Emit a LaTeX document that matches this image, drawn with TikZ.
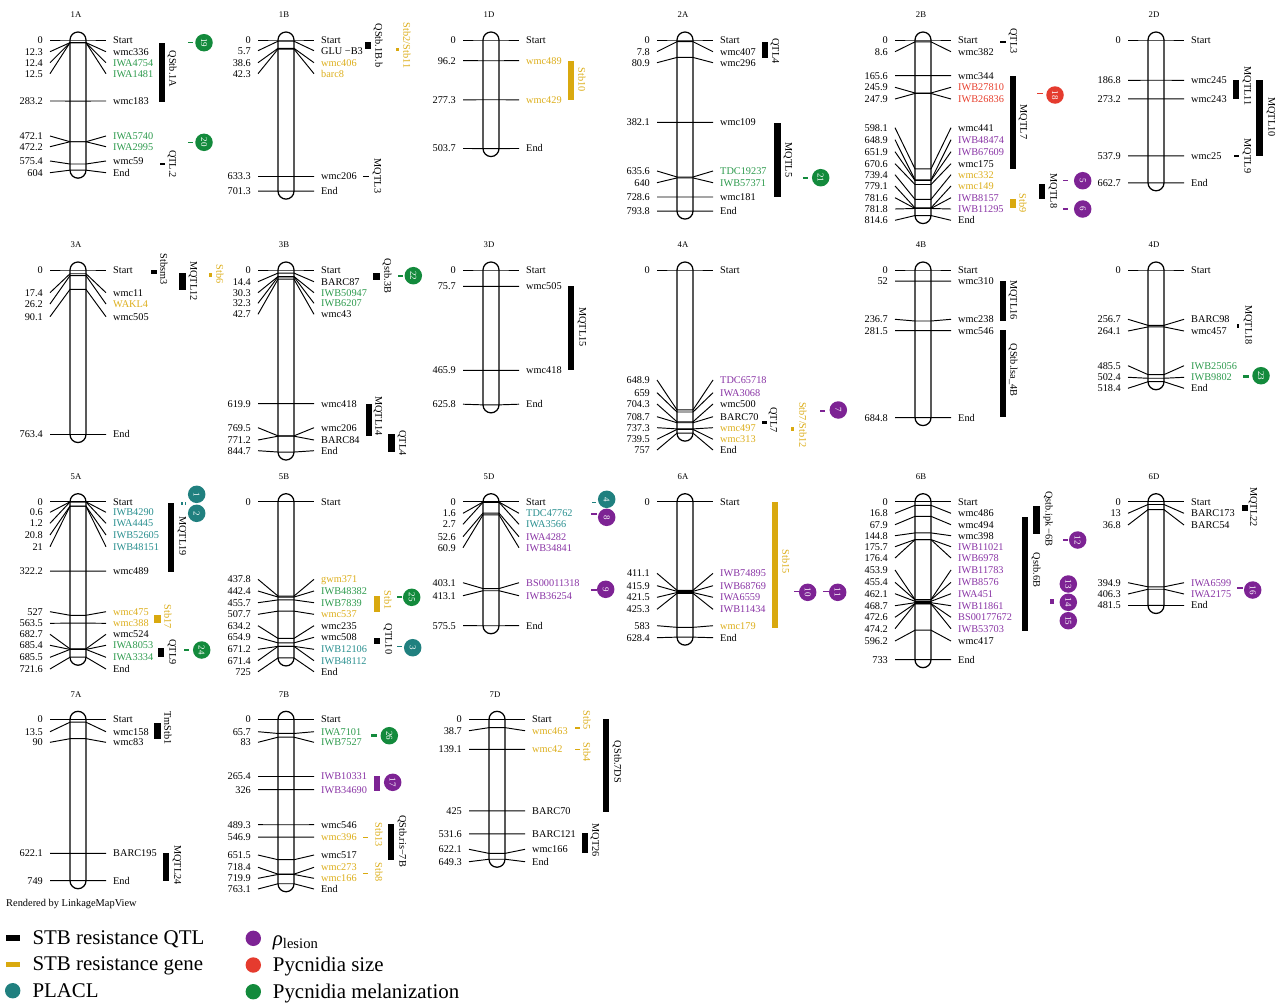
\documentclass[tikz,border=0pt]{standalone}
\usepackage{fontspec}
\setmainfont{Liberation Serif}
\definecolor{cgreen}{HTML}{138A3C}
\definecolor{cgold}{HTML}{D9A90F}
\definecolor{cpurple}{HTML}{7D2394}
\definecolor{cteal}{HTML}{20807F}
\definecolor{cred}{HTML}{E53B2E}
\definecolor{tgreen}{HTML}{2E9B4E}
\definecolor{tgold}{HTML}{DDAF1C}
\definecolor{tpurple}{HTML}{8A35A6}
\definecolor{tteal}{HTML}{2A9090}
\definecolor{tred}{HTML}{E8412F}
\newcounter{nd}
\tikzset{
 mline/.style={line width=0.95pt},
 chromo/.style={line width=1.25pt, rounded corners=8pt},
 lab/.style={font=\fontsize{10.3}{12}\selectfont, inner sep=0pt},
 rlab/.style={font=\fontsize{10.3}{12}\selectfont, inner sep=0pt, rotate=-90},
 ttl/.style={font=\fontsize{8.7}{10}\selectfont, inner sep=0pt},
 bub/.style={circle, minimum size=17.5pt, inner sep=0pt, text=white, font=\fontsize{9}{10}\selectfont},
 leg/.style={font=\fontsize{20.9}{24}\selectfont, inner sep=0pt, anchor=base west, yshift=-6.9pt}
}
\newcommand\chrm[4]{%
 \def\cx{#1}\def\yz{#2}%
 \pgfmathsetmacro\ye{#2+0.2155*#3}%
 \draw[chromo] (#1-8,#2-8) rectangle (#1+8,\ye+8);%
 \stepcounter{nd}\node[ttl] (n\arabic{nd}) at (#1-2,#2-25) {#4};%
}
\newcommand\mkr[4]{%
 \pgfmathsetmacro\yy{\yz+0.2155*#1}%
 \draw[mline] (\cx-28,#2) -- (\cx-8,\yy) -- (\cx+8,\yy) -- (\cx+28,#2);%
 \stepcounter{nd}\node[lab,anchor=base east,yshift=-3.4pt] (n\arabic{nd}) at (\cx-35,#2) {#1};%
 \stepcounter{nd}\node[lab,anchor=base west,yshift=-3.4pt,text=#4] (n\arabic{nd}) at (\cx+35,#2) {#3};%
}
\newcommand\barx[5]{\fill[#5] (#1,#2) rectangle (#3,#4);}
\newcommand\rtxt[4]{\stepcounter{nd}\node[rlab,text=#4] (n\arabic{nd}) at (#1,#2) {#3};}
\newcommand\bubl[4]{\stepcounter{nd}\node[bub,fill=#4] (n\arabic{nd}) at (#1,#2) {\rotatebox{-90}{#3}};}
\begin{document}
\begin{tikzpicture}[x=1pt,y=-1pt]
\useasboundingbox (0,0) rectangle (1281,1004);
\fill[white] (0,0) rectangle (1281,1004);
% ================= ROW 1 =================
\chrm{78}{40}{604}{1A}
\mkr{0}{40}{Start}{black}
\mkr{12.3}{51.7}{wmc336}{black}
\mkr{12.4}{62.7}{IWA4754}{tgreen}
\mkr{12.5}{73.7}{IWA1481}{tgreen}
\mkr{283.2}{101}{wmc183}{black}
\mkr{472.1}{136}{IWA5740}{tgreen}
\mkr{472.2}{146.7}{IWA2995}{tgreen}
\mkr{575.4}{161}{wmc59}{black}
\mkr{604}{172.7}{End}{black}
\chrm{286}{40}{701.3}{1B}
\mkr{0}{40}{Start}{black}
\mkr{5.7}{50.7}{GLU −B3}{black}
\mkr{38.6}{62.7}{wmc406}{tgold}
\mkr{42.3}{73.7}{barc8}{tgold}
\mkr{633.3}{176.5}{wmc206}{black}
\mkr{701.3}{191.1}{End}{black}
\chrm{491}{40}{503.7}{1D}
\mkr{0}{40}{Start}{black}
\mkr{96.2}{60.7}{wmc489}{tgold}
\mkr{277.3}{99.8}{wmc429}{tgold}
\mkr{503.7}{148.5}{End}{black}
\chrm{685}{40}{793.8}{2A}
\mkr{0}{40}{Start}{black}
\mkr{7.8}{51.7}{wmc407}{black}
\mkr{80.9}{62.7}{wmc296}{black}
\mkr{382.1}{122.3}{wmc109}{black}
\mkr{635.6}{171}{TDC19237}{tgreen}
\mkr{640}{182.7}{IWB57371}{tgreen}
\mkr{728.6}{197}{wmc181}{black}
\mkr{793.8}{211.1}{End}{black}
\chrm{923}{40}{814.6}{2B}
\mkr{0}{40}{Start}{black}
\mkr{8.6}{51.7}{wmc382}{black}
\mkr{165.6}{75.7}{wmc344}{black}
\mkr{245.9}{87.3}{IWB27810}{tred}
\mkr{247.9}{99}{IWB26836}{tred}
\mkr{598.1}{127.7}{wmc441}{black}
\mkr{648.9}{139.7}{IWB48474}{tpurple}
\mkr{651.9}{151.7}{IWB67609}{tpurple}
\mkr{670.6}{163.7}{wmc175}{black}
\mkr{739.4}{174.7}{wmc332}{tgold}
\mkr{779.1}{186}{wmc149}{tgold}
\mkr{781.6}{197.7}{IWB8157}{tpurple}
\mkr{781.8}{209}{IWB11295}{tpurple}
\mkr{814.6}{220.3}{End}{black}
\chrm{1156}{40}{662.7}{2D}
\mkr{0}{40}{Start}{black}
\mkr{186.8}{80.3}{wmc245}{black}
\mkr{273.2}{98.9}{wmc243}{black}
\mkr{537.9}{155.9}{wmc25}{black}
\mkr{662.7}{182.8}{End}{black}
% row 1 overlays
\barx{158.7}{42.7}{165.3}{101.7}{black}
\barx{159.5}{163.4}{164.5}{164.8}{black}
\barx{365}{41.7}{371}{49}{black}
\barx{363}{175.5}{369}{176.9}{black}
\barx{395.5}{47.7}{398.5}{51}{cgold}
\barx{568}{61}{574}{100}{cgold}
\barx{761.7}{41.7}{768.3}{58.3}{black}
\barx{774.3}{122.5}{780.7}{197.3}{black}
\barx{1000}{41}{1005.7}{43}{black}
\barx{1010}{76}{1016}{169}{black}
\barx{1039}{184}{1045}{199.3}{black}
\barx{1010}{199}{1016}{208.3}{cgold}
\barx{1233}{80.3}{1239}{98.9}{black}
\barx{1234}{155.3}{1239}{156.7}{black}
\barx{1256}{80.3}{1262.5}{155.9}{black}
\barx{188}{42}{193}{43.4}{cgreen}
\barx{188}{141.6}{193}{143}{cgreen}
\barx{802.7}{177}{808.3}{178.5}{cgreen}
\barx{1037}{92.5}{1043}{94}{cred}
\barx{1063}{179.5}{1068}{181}{cpurple}
\barx{1063}{208}{1068}{209.5}{cpurple}
\rtxt{172}{69}{QStb.1A}{black}
\rtxt{172}{164}{QTL.2}{black}
\rtxt{378}{45.5}{QStb.1B.b}{black}
\rtxt{407}{45.5}{Stb2/Stb11}{tgold}
\rtxt{377}{176}{MQTL3}{black}
\rtxt{582}{80}{Stb10}{tgold}
\rtxt{775}{51}{QTL4}{black}
\rtxt{788}{160}{MQTL5}{black}
\rtxt{1013}{41}{QTL3}{black}
\rtxt{1023}{122}{MQTL7}{black}
\rtxt{1053}{191}{MQTL8}{black}
\rtxt{1023}{203}{Stb9}{tgold}
\rtxt{1247}{86}{MQTL11}{black}
\rtxt{1247}{156}{MQTL9}{black}
\rtxt{1271}{117}{MQTL10}{black}
\bubl{204}{42.7}{19}{cgreen}
\bubl{204}{142.3}{20}{cgreen}
\bubl{820.7}{177.7}{21}{cgreen}
\bubl{1055}{95}{18}{cred}
\bubl{1082.7}{180.7}{5}{cpurple}
\bubl{1082.7}{209}{6}{cpurple}
% ================= ROW 2 =================
\chrm{78}{270}{763.4}{3A}
\mkr{0}{270}{Start}{black}
\mkr{17.4}{292.7}{wmc11}{black}
\mkr{26.2}{304}{WAKL4}{tgold}
\mkr{90.1}{316.7}{wmc505}{black}
\mkr{763.4}{434.5}{End}{black}
\chrm{286}{270}{844.7}{3B}
\mkr{0}{270}{Start}{black}
\mkr{14.4}{281.7}{BARC87}{black}
\mkr{30.3}{292.7}{IWB50947}{tgreen}
\mkr{32.3}{303.3}{IWB6207}{tgreen}
\mkr{42.7}{314.3}{wmc43}{black}
\mkr{619.9}{403.6}{wmc418}{black}
\mkr{769.5}{427.7}{wmc206}{black}
\mkr{771.2}{440}{BARC84}{black}
\mkr{844.7}{450.7}{End}{black}
\chrm{491}{270}{625.8}{3D}
\mkr{0}{270}{Start}{black}
\mkr{75.7}{286.3}{wmc505}{black}
\mkr{465.9}{370.4}{wmc418}{black}
\mkr{625.8}{404.2}{End}{black}
\chrm{685}{270}{757}{4A}
\mkr{0}{270}{Start}{black}
\mkr{648.9}{380}{TDC65718}{tpurple}
\mkr{659}{392.7}{IWA3068}{tpurple}
\mkr{704.3}{404}{wmc500}{black}
\mkr{708.7}{416.7}{BARC70}{black}
\mkr{737.3}{427.7}{wmc497}{tgold}
\mkr{739.5}{439.3}{wmc313}{tgold}
\mkr{757}{450}{End}{black}
\chrm{923}{270}{684.8}{4B}
\mkr{0}{270}{Start}{black}
\mkr{52}{281.2}{wmc310}{black}
\mkr{236.7}{319.3}{wmc238}{black}
\mkr{281.5}{330.7}{wmc546}{black}
\mkr{684.8}{417.6}{End}{black}
\chrm{1156}{270}{518.4}{4D}
\mkr{0}{270}{Start}{black}
\mkr{256.7}{319.3}{BARC98}{black}
\mkr{264.1}{331}{wmc457}{black}
\mkr{485.5}{365.7}{IWB25056}{tgreen}
\mkr{502.4}{377.3}{IWB9802}{tgreen}
\mkr{518.4}{388.3}{End}{black}
% row 2 overlays
\barx{150.7}{270}{156.7}{274}{black}
\barx{179.3}{273.3}{185.7}{290}{black}
\barx{209.3}{273.3}{212}{277}{cgold}
\barx{373}{272.7}{380}{280}{black}
\barx{398}{275}{403}{276.5}{cgreen}
\barx{366}{403.6}{371.7}{435.7}{black}
\barx{388}{434}{395}{451.7}{black}
\barx{567.7}{286.3}{574}{370.4}{black}
\barx{762.3}{421}{767.3}{423.5}{black}
\barx{791.3}{426.7}{794.3}{430.7}{cgold}
\barx{820}{410.2}{825}{412}{cpurple}
\barx{1000}{281.2}{1005.7}{320.7}{black}
\barx{1000}{330}{1005.7}{417.3}{black}
\barx{1236.5}{324.3}{1239}{328.3}{black}
\barx{1243}{374.6}{1249}{378.3}{cgreen}
\rtxt{164}{269}{Stbsm3}{black}
\rtxt{193}{281}{MQTL12}{black}
\rtxt{220}{274}{Stb6}{tgold}
\rtxt{387}{276}{Qstb.3B}{black}
\rtxt{378}{416}{MQTL14}{black}
\rtxt{402}{443}{QTL4}{black}
\rtxt{582}{327}{MQTL15}{black}
\rtxt{773}{420}{QTL7}{black}
\rtxt{803}{425}{Stb7/Stb12}{tgold}
\rtxt{1013}{300}{MQTL16}{black}
\rtxt{1013}{370}{QStb.lsa\_4B}{black}
\rtxt{1248}{325}{MQTL18}{black}
\bubl{413.3}{275.7}{22}{cgreen}
\bubl{838.3}{410}{7}{cpurple}
\bubl{1261}{375.7}{23}{cgreen}
% ================= ROW 3 =================
\chrm{78}{501.7}{721.6}{5A}
\mkr{0}{501.7}{Start}{black}
\mkr{0.6}{512.3}{IWB4290}{tteal}
\mkr{1.2}{523.3}{IWA4445}{tteal}
\mkr{20.8}{535}{IWB52605}{tteal}
\mkr{21}{546.7}{IWB48151}{tteal}
\mkr{322.2}{571.1}{wmc489}{black}
\mkr{527}{611.7}{wmc475}{tgold}
\mkr{563.5}{623.3}{wmc388}{tgold}
\mkr{682.7}{634.3}{wmc524}{black}
\mkr{685.4}{645.3}{IWA8053}{tgreen}
\mkr{685.5}{657.3}{IWA3334}{tgreen}
\mkr{721.6}{669}{End}{black}
\chrm{286}{501.7}{725}{5B}
\mkr{0}{501.7}{Start}{black}
\mkr{437.8}{579.3}{gwm371}{tgold}
\mkr{442.4}{591}{IWB48382}{tgreen}
\mkr{455.7}{602.7}{IWB7839}{tgreen}
\mkr{507.7}{614.3}{wmc537}{tgold}
\mkr{634.2}{625.7}{wmc235}{black}
\mkr{654.9}{637.3}{wmc508}{black}
\mkr{671.2}{649.3}{IWB12106}{tteal}
\mkr{671.4}{660.7}{IWB48112}{tteal}
\mkr{725}{671.7}{End}{black}
\chrm{491}{501.7}{575.5}{5D}
\mkr{0}{501.7}{Start}{black}
\mkr{1.6}{513.3}{TDC47762}{tteal}
\mkr{2.7}{524.3}{IWA3566}{tteal}
\mkr{52.6}{536.7}{IWA4282}{tpurple}
\mkr{60.9}{547.7}{IWB34841}{tpurple}
\mkr{403.1}{582.7}{BS00011318}{tpurple}
\mkr{413.1}{595.7}{IWB36254}{tpurple}
\mkr{575.5}{625.7}{End}{black}
\chrm{685}{501.7}{628.4}{6A}
\mkr{0}{501.7}{Start}{black}
\mkr{411.1}{573.3}{IWB74895}{tpurple}
\mkr{415.9}{585.7}{IWB68769}{tpurple}
\mkr{421.5}{597.3}{IWA6559}{tpurple}
\mkr{425.3}{609.3}{IWB11434}{tpurple}
\mkr{583}{625.7}{wmc179}{tgold}
\mkr{628.4}{637.7}{End}{black}
\chrm{923}{501.7}{733}{6B}
\mkr{0}{501.7}{Start}{black}
\mkr{16.8}{513.3}{wmc486}{black}
\mkr{67.9}{524.7}{wmc494}{black}
\mkr{144.8}{535.7}{wmc398}{black}
\mkr{175.7}{546.7}{IWB11021}{tpurple}
\mkr{176.4}{558}{IWB6978}{tpurple}
\mkr{453.9}{570}{IWB11783}{tpurple}
\mkr{455.4}{582.3}{IWB8576}{tpurple}
\mkr{462.1}{593.7}{IWA451}{tpurple}
\mkr{468.7}{605.7}{IWB11861}{tpurple}
\mkr{472.6}{617.3}{BS00177672}{tpurple}
\mkr{474.2}{628.7}{IWB53703}{tpurple}
\mkr{596.2}{641}{wmc417}{black}
\mkr{733}{659.7}{End}{black}
\chrm{1156}{501.7}{481.5}{6D}
\mkr{0}{501.7}{Start}{black}
\mkr{13}{513.3}{BARC173}{black}
\mkr{36.8}{525}{BARC54}{black}
\mkr{394.9}{582.7}{IWA6599}{tpurple}
\mkr{406.3}{594}{IWA2175}{tpurple}
\mkr{481.5}{605.5}{End}{black}
% row 3 overlays
\barx{167.7}{502.7}{174}{571.7}{black}
\barx{181}{501.7}{182.5}{505}{cteal}
\barx{184.5}{501.7}{186}{505}{cteal}
\barx{154.3}{615}{161}{623.3}{cgold}
\barx{158.3}{648.3}{164}{657.3}{black}
\barx{184}{649.3}{189}{650.8}{cgreen}
\barx{374}{596}{380}{611.7}{cgold}
\barx{396.7}{596.3}{401.7}{597.8}{cgreen}
\barx{374}{638.3}{380}{644}{black}
\barx{396.7}{645.5}{401.7}{647}{cteal}
\barx{591.7}{501.7}{596}{503}{cteal}
\barx{591}{513}{596.7}{515.3}{cpurple}
\barx{591}{588.8}{596.7}{590.5}{cpurple}
\barx{771.7}{501.7}{778.3}{627.7}{cgold}
\barx{794.3}{590.8}{800}{592.3}{cpurple}
\barx{823}{590.8}{829}{592.3}{cpurple}
\barx{1033.3}{505.7}{1040}{534}{black}
\barx{1022.3}{516.7}{1028.3}{630.7}{black}
\barx{1062.7}{539}{1068.3}{540.5}{cpurple}
\barx{1050}{599.3}{1054}{604}{cpurple}
\barx{1241.7}{505}{1247.7}{511}{black}
\barx{1236.7}{586.8}{1243.3}{589.3}{cpurple}
\rtxt{182}{536}{MQTL19}{black}
\rtxt{168}{617}{Stb17}{tgold}
\rtxt{172}{652}{QTL9}{black}
\rtxt{388}{600}{Stb1}{tgold}
\rtxt{388}{639}{QTL10}{black}
\rtxt{786}{562}{Stb15}{tgold}
\rtxt{1048}{519}{Qstb.ipk −6B}{black}
\rtxt{1036}{570}{Qstb.6B}{black}
\rtxt{1253}{507}{MQTL22}{black}
\bubl{196.7}{494.3}{1}{cteal}
\bubl{196.7}{513.3}{2}{cteal}
\bubl{201.7}{650}{24}{cgreen}
\bubl{411.7}{597.3}{25}{cgreen}
\bubl{412.7}{647.7}{3}{cteal}
\bubl{606.7}{499.3}{4}{cteal}
\bubl{606.7}{517.3}{8}{cpurple}
\bubl{605.7}{589.3}{9}{cpurple}
\bubl{807.7}{592.3}{10}{cpurple}
\bubl{837.7}{592.3}{11}{cpurple}
\bubl{1077.7}{540}{12}{cpurple}
\bubl{1068.3}{584}{13}{cpurple}
\bubl{1068.3}{602.3}{14}{cpurple}
\bubl{1068.3}{620.7}{15}{cpurple}
\bubl{1252.7}{590}{16}{cpurple}
% ================= ROW 4 =================
\chrm{78}{719.3}{749}{7A}
\mkr{0}{719.3}{Start}{black}
\mkr{13.5}{731.7}{wmc158}{black}
\mkr{90}{742.3}{wmc83}{black}
\mkr{622.1}{853.4}{BARC195}{black}
\mkr{749}{880.7}{End}{black}
\chrm{286}{719.3}{763.1}{7B}
\mkr{0}{719.3}{Start}{black}
\mkr{65.7}{731.7}{IWA7101}{tgreen}
\mkr{83}{742.3}{IWB7527}{tgreen}
\mkr{265.4}{776.5}{IWB10331}{tpurple}
\mkr{326}{789.6}{IWB34690}{tpurple}
\mkr{489.3}{824.7}{wmc546}{black}
\mkr{546.9}{837.2}{wmc396}{tgold}
\mkr{651.5}{855}{wmc517}{black}
\mkr{718.4}{867.3}{wmc273}{tgold}
\mkr{719.9}{878.3}{wmc166}{tgold}
\mkr{763.1}{889}{End}{black}
\chrm{497}{719.3}{649.3}{7D}
\mkr{0}{719.3}{Start}{black}
\mkr{38.7}{730.7}{wmc463}{tgold}
\mkr{139.1}{749.3}{wmc42}{tgold}
\mkr{425}{810.9}{BARC70}{black}
\mkr{531.6}{833.9}{BARC121}{black}
\mkr{622.1}{849.3}{wmc166}{black}
\mkr{649.3}{861.7}{End}{black}
% row 4 overlays
\barx{154.3}{722.7}{161}{739.3}{black}
\barx{162.7}{853.3}{169}{881}{black}
\barx{370.7}{733.5}{376.7}{737.2}{cgreen}
\barx{374}{776}{380}{791}{cpurple}
\barx{387.7}{824.3}{394}{860}{black}
\barx{363.3}{836.5}{368.3}{838}{cgold}
\barx{363.3}{872.5}{368.3}{874}{cgold}
\barx{575}{727}{580}{728.5}{cgold}
\barx{575}{748.6}{580}{750}{cgold}
\barx{603.3}{719.3}{609.3}{811.7}{black}
\barx{581.7}{833.3}{588.3}{853.3}{black}
\rtxt{168}{728}{TmStb1}{black}
\rtxt{177}{865}{MQTL24}{black}
\rtxt{402}{841}{QStb.ris−7B}{black}
\rtxt{379}{835}{Stb13}{tgold}
\rtxt{379}{872}{Stb8}{tgold}
\rtxt{587}{720}{Stb5}{tgold}
\rtxt{587}{752}{Stb4}{tgold}
\rtxt{617}{762}{QStb.7DS}{black}
\rtxt{595}{840}{MQT26}{black}
\bubl{389.3}{735.7}{26}{cgreen}
\bubl{392.7}{782.3}{17}{cpurple}
% ================= FOOTER & LEGEND =================
\stepcounter{nd}\node[font=\fontsize{10.4}{12}\selectfont, inner sep=0pt, anchor=base west] (n\arabic{nd}) at (6,906.5) {Rendered by LinkageMapView};
\fill[black] (6,935) rectangle (20,941);
\stepcounter{nd}\node[leg] (n\arabic{nd}) at (32.3,938) {STB resistance QTL};
\fill[cgold] (6,961.7) rectangle (20,966.7);
\stepcounter{nd}\node[leg] (n\arabic{nd}) at (32.3,964) {STB resistance gene};
\fill[cteal] (12.7,990.7) circle (7.7);
\stepcounter{nd}\node[leg] (n\arabic{nd}) at (32.3,990.7) {PLACL};
\fill[cpurple] (253.3,938.3) circle (7.7);
\stepcounter{nd}\node[leg] (n\arabic{nd}) at (272.7,938.3) {\textit{ρ}\textsubscript{lesion}};
\fill[cred] (253.3,965) circle (7.7);
\stepcounter{nd}\node[leg] (n\arabic{nd}) at (272.7,965) {Pycnidia size};
\fill[cgreen] (253.3,991.7) circle (7.7);
\stepcounter{nd}\node[leg] (n\arabic{nd}) at (272.7,991.7) {Pycnidia melanization};
\end{tikzpicture}
\end{document}
